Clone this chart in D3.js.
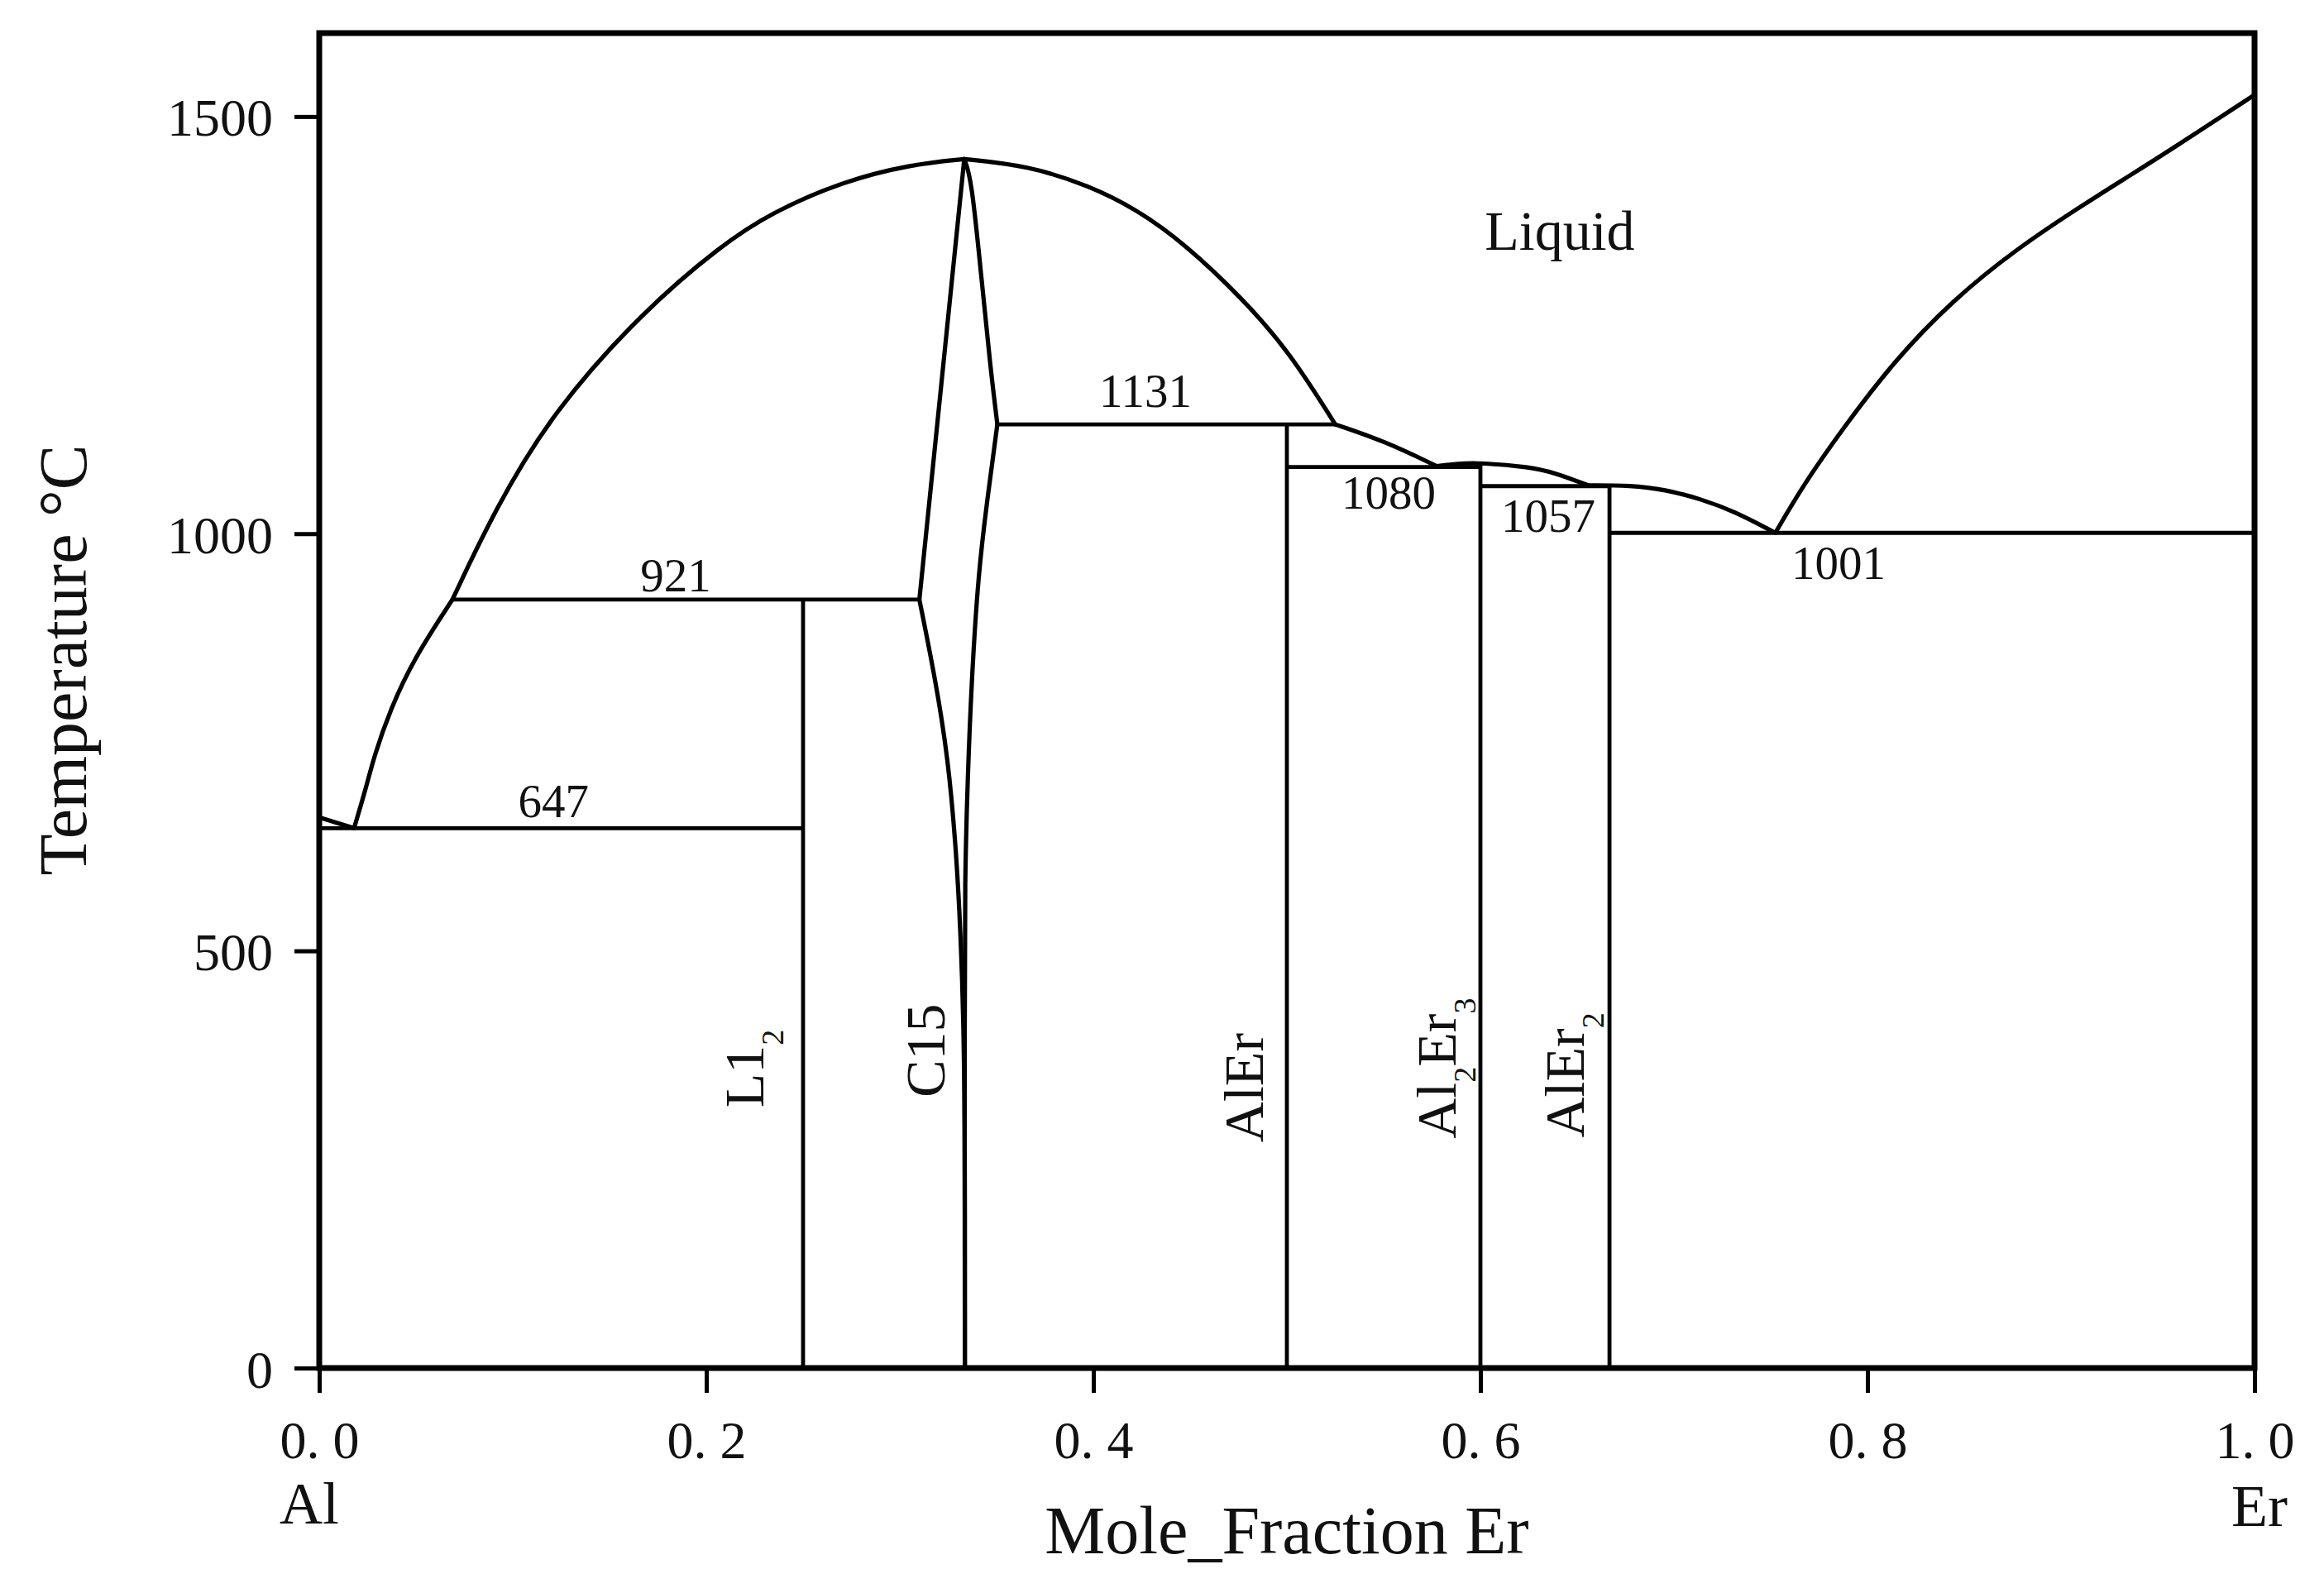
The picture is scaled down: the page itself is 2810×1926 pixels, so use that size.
<!DOCTYPE html>
<html>
<head>
<meta charset="utf-8">
<script src="https://cdn.jsdelivr.net/npm/d3@7"></script>
<style>
  html, body { margin: 0; padding: 0; background: #fff; }
  svg { display: block; }
  text { font-family: "Liberation Serif", "Times New Roman", serif; fill: #111; }
</style>
</head>
<body>
<svg id="chart" width="2810" height="1926"></svg>
<script>
// ---------------- data (mole fraction Er, temperature °C) ----------------
const xTicks = [0, 0.2, 0.4, 0.6, 0.8, 1.0];
const yTicks = [0, 500, 1000, 1500];

const liqAl       = [[0, 660], [0.018, 647]];
const liqL12      = [[0.018, 647], [0.0245, 698], [0.0282, 732], [0.0368, 790], [0.0491, 851], [0.0688, 921]];
const liqDomeLeft = [[0.0688, 921], [0.0908, 1029], [0.120, 1144], [0.1669, 1266], [0.2085, 1347], [0.2331, 1384], [0.2699, 1422], [0.3067, 1443], [0.3333, 1449]];
const liqDomeRight= [[0.3333, 1449], [0.3665, 1441], [0.398, 1417], [0.4229, 1388], [0.4474, 1347], [0.477, 1282], [0.5013, 1218], [0.525, 1131]];
const liqAlEr     = [[0.525, 1131], [0.5504, 1111], [0.5774, 1081]];
const liqAl2Er3   = [[0.5774, 1081], [0.588, 1084], [0.6004, 1085], [0.6256, 1080], [0.6385, 1073], [0.6556, 1058]];
const liqAlEr2    = [[0.6556, 1058], [0.6776, 1058], [0.6953, 1053], [0.714, 1041.5], [0.731, 1027], [0.7524, 1001]];
const liqEr       = [[0.7524, 1001], [0.767, 1059], [0.787, 1125], [0.813, 1205], [0.844, 1280], [0.8774, 1342], [0.910, 1392], [0.9325, 1425], [0.9547, 1457], [1.0, 1526]];

const c15LeftUpper  = [[0.3333, 1449], [0.3101, 921]];
const c15LeftLower  = [[0.3101, 921], [0.318, 830], [0.325, 731], [0.3293, 615], [0.3315, 516], [0.3329, 417], [0.3336, 293], [0.3336, 0]];
const c15RightUpper = [[0.3333, 1449], [0.337, 1426], [0.3419, 1313], [0.3468, 1199], [0.3504, 1131]];
const c15RightLower = [[0.3504, 1131], [0.3449, 1036], [0.3406, 953], [0.3372, 830], [0.335, 706], [0.3336, 582], [0.3335, 450], [0.3336, 0]];

const invariantT    = [647, 921, 1131, 1080, 1057, 1001];
const invariantFrom = [0, 0.0688, 0.3504, 0.5, 0.6, 0.6667];
const invariantTo   = [0.25, 0.3101, 0.525, 0.6, 0.6667, 1.0];

const compoundX    = [0.25, 0.5, 0.6, 0.6667];
const compoundTop  = [921, 1131, 1085, 1058];

const tempLabelText = ["647", "921", "1131", "1080", "1057", "1001"];
const tempLabelX    = [0.121, 0.1842, 0.4269, 0.5526, 0.635, 0.785];
const tempLabelT    = [660.6, 930.7, 1151.8, 1029.8, 1002, 945.6];

const phaseParts = [
  [["L1", false], ["2", true]],
  [["C15", false]],
  [["AlEr", false]],
  [["Al", false], ["2", true], ["Er", false], ["3", true]],
  [["AlEr", false], ["2", true]]
];
const phaseX = [0.2294, 0.3231, 0.4876, 0.5872, 0.6534];
const phaseT = [358.8, 380.6, 336, 359.2, 351];

// ---------------- layout ----------------
const M = { left: 386, right: 2726, top: 40, bottom: 1654 };
const svg = d3.select("#chart");
svg.append("rect").attr("width", 2810).attr("height", 1926).attr("fill", "#fff");

const x = d3.scaleLinear().domain([0, 1]).range([M.left, M.right]);
const y = d3.scaleLinear().domain([0, 1600]).range([M.bottom, M.top]);

const smooth = d3.line().x(d => x(d[0])).y(d => y(d[1])).curve(d3.curveBasis);
const g = svg.append("g");

const curves = [liqAl, liqL12, liqDomeLeft, liqDomeRight, liqAlEr, liqAl2Er3, liqAlEr2, liqEr,
                c15LeftUpper, c15LeftLower, c15RightUpper, c15RightLower];
g.selectAll("path.curve").data(curves).join("path")
  .attr("class", "curve")
  .attr("d", smooth)
  .attr("fill", "none").attr("stroke", "#000").attr("stroke-width", 5.2)
  .attr("stroke-linejoin", "round").attr("stroke-linecap", "round");

g.selectAll("line.inv").data(invariantT).join("line")
  .attr("class", "inv")
  .attr("x1", (d, i) => x(invariantFrom[i])).attr("x2", (d, i) => x(invariantTo[i]))
  .attr("y1", d => y(d)).attr("y2", d => y(d))
  .attr("stroke", "#000").attr("stroke-width", 4.8);

g.selectAll("line.cmp").data(compoundX).join("line")
  .attr("class", "cmp")
  .attr("x1", d => x(d)).attr("x2", d => x(d))
  .attr("y1", y(0)).attr("y2", (d, i) => y(compoundTop[i]))
  .attr("stroke", "#000").attr("stroke-width", 4.8);

// invariant temperature labels
g.selectAll("text.tl").data(tempLabelText).join("text")
  .attr("class", "tl")
  .attr("x", (d, i) => x(tempLabelX[i])).attr("y", (d, i) => y(tempLabelT[i]))
  .attr("text-anchor", "middle").attr("font-size", 57)
  .text(d => d);

// phase labels (rotated)
phaseParts.forEach((parts, i) => {
  const px = x(phaseX[i]), py = y(phaseT[i]);
  const t = g.append("text")
    .attr("transform", `translate(${px},${py}) rotate(-90)`)
    .attr("text-anchor", "middle").attr("font-size", 68);
  let shifted = false;
  parts.forEach(([s, sub]) => {
    const ts = t.append("tspan").text(s);
    if (sub && !shifted) { ts.attr("dy", 24).attr("font-size", 38); shifted = true; }
    else if (sub) { ts.attr("font-size", 38); }
    else if (!sub && shifted) { ts.attr("dy", -24); shifted = false; }
  });
});

// Liquid label
g.append("text").attr("x", x(0.641)).attr("y", y(1340))
  .attr("text-anchor", "middle").attr("font-size", 68).text("Liquid");

// ---------------- axes ----------------
const yAxis = d3.axisLeft(y).tickValues(yTicks).tickSize(30).tickPadding(26).tickFormat(d3.format("d"));
const yg = svg.append("g").attr("transform", `translate(${M.left},0)`).call(yAxis);
yg.select(".domain").remove();
yg.selectAll(".tick line").attr("stroke", "#000").attr("stroke-width", 5);
yg.selectAll(".tick text").attr("font-size", 64).attr("font-family", "Liberation Serif, serif")
  .attr("fill", "#111").attr("dy", "0.36em");

const xAxis = d3.axisBottom(x).tickValues(xTicks).tickSize(30).tickPadding(34)
  .tickFormat(d => d3.format(".1f")(d).replace(".", ". "));
const xg = svg.append("g").attr("transform", `translate(0,${M.bottom})`).call(xAxis);
xg.select(".domain").remove();
xg.selectAll(".tick line").attr("stroke", "#000").attr("stroke-width", 5);
xg.selectAll(".tick text").attr("font-size", 64).attr("font-family", "Liberation Serif, serif")
  .attr("fill", "#111").style("white-space", "pre");

// frame
svg.append("rect")
  .attr("x", M.left).attr("y", M.top)
  .attr("width", M.right - M.left).attr("height", M.bottom - M.top)
  .attr("fill", "none").attr("stroke", "#000").attr("stroke-width", 7);

// element labels and axis titles
svg.append("text").attr("x", x(0) - 12).attr("y", 1842).attr("text-anchor", "middle")
  .attr("font-size", 72).text("Al");
svg.append("text").attr("x", x(1) + 6).attr("y", 1845).attr("text-anchor", "middle")
  .attr("font-size", 72).text("Er");
svg.append("text").attr("x", (M.left + M.right) / 2).attr("y", 1878).attr("text-anchor", "middle")
  .attr("font-size", 82).text("Mole_Fraction Er");
svg.append("text").attr("transform", "translate(104,798) rotate(-90)").attr("text-anchor", "middle")
  .attr("font-size", 82).text("Temperature °C");
</script>
</body>
</html>
